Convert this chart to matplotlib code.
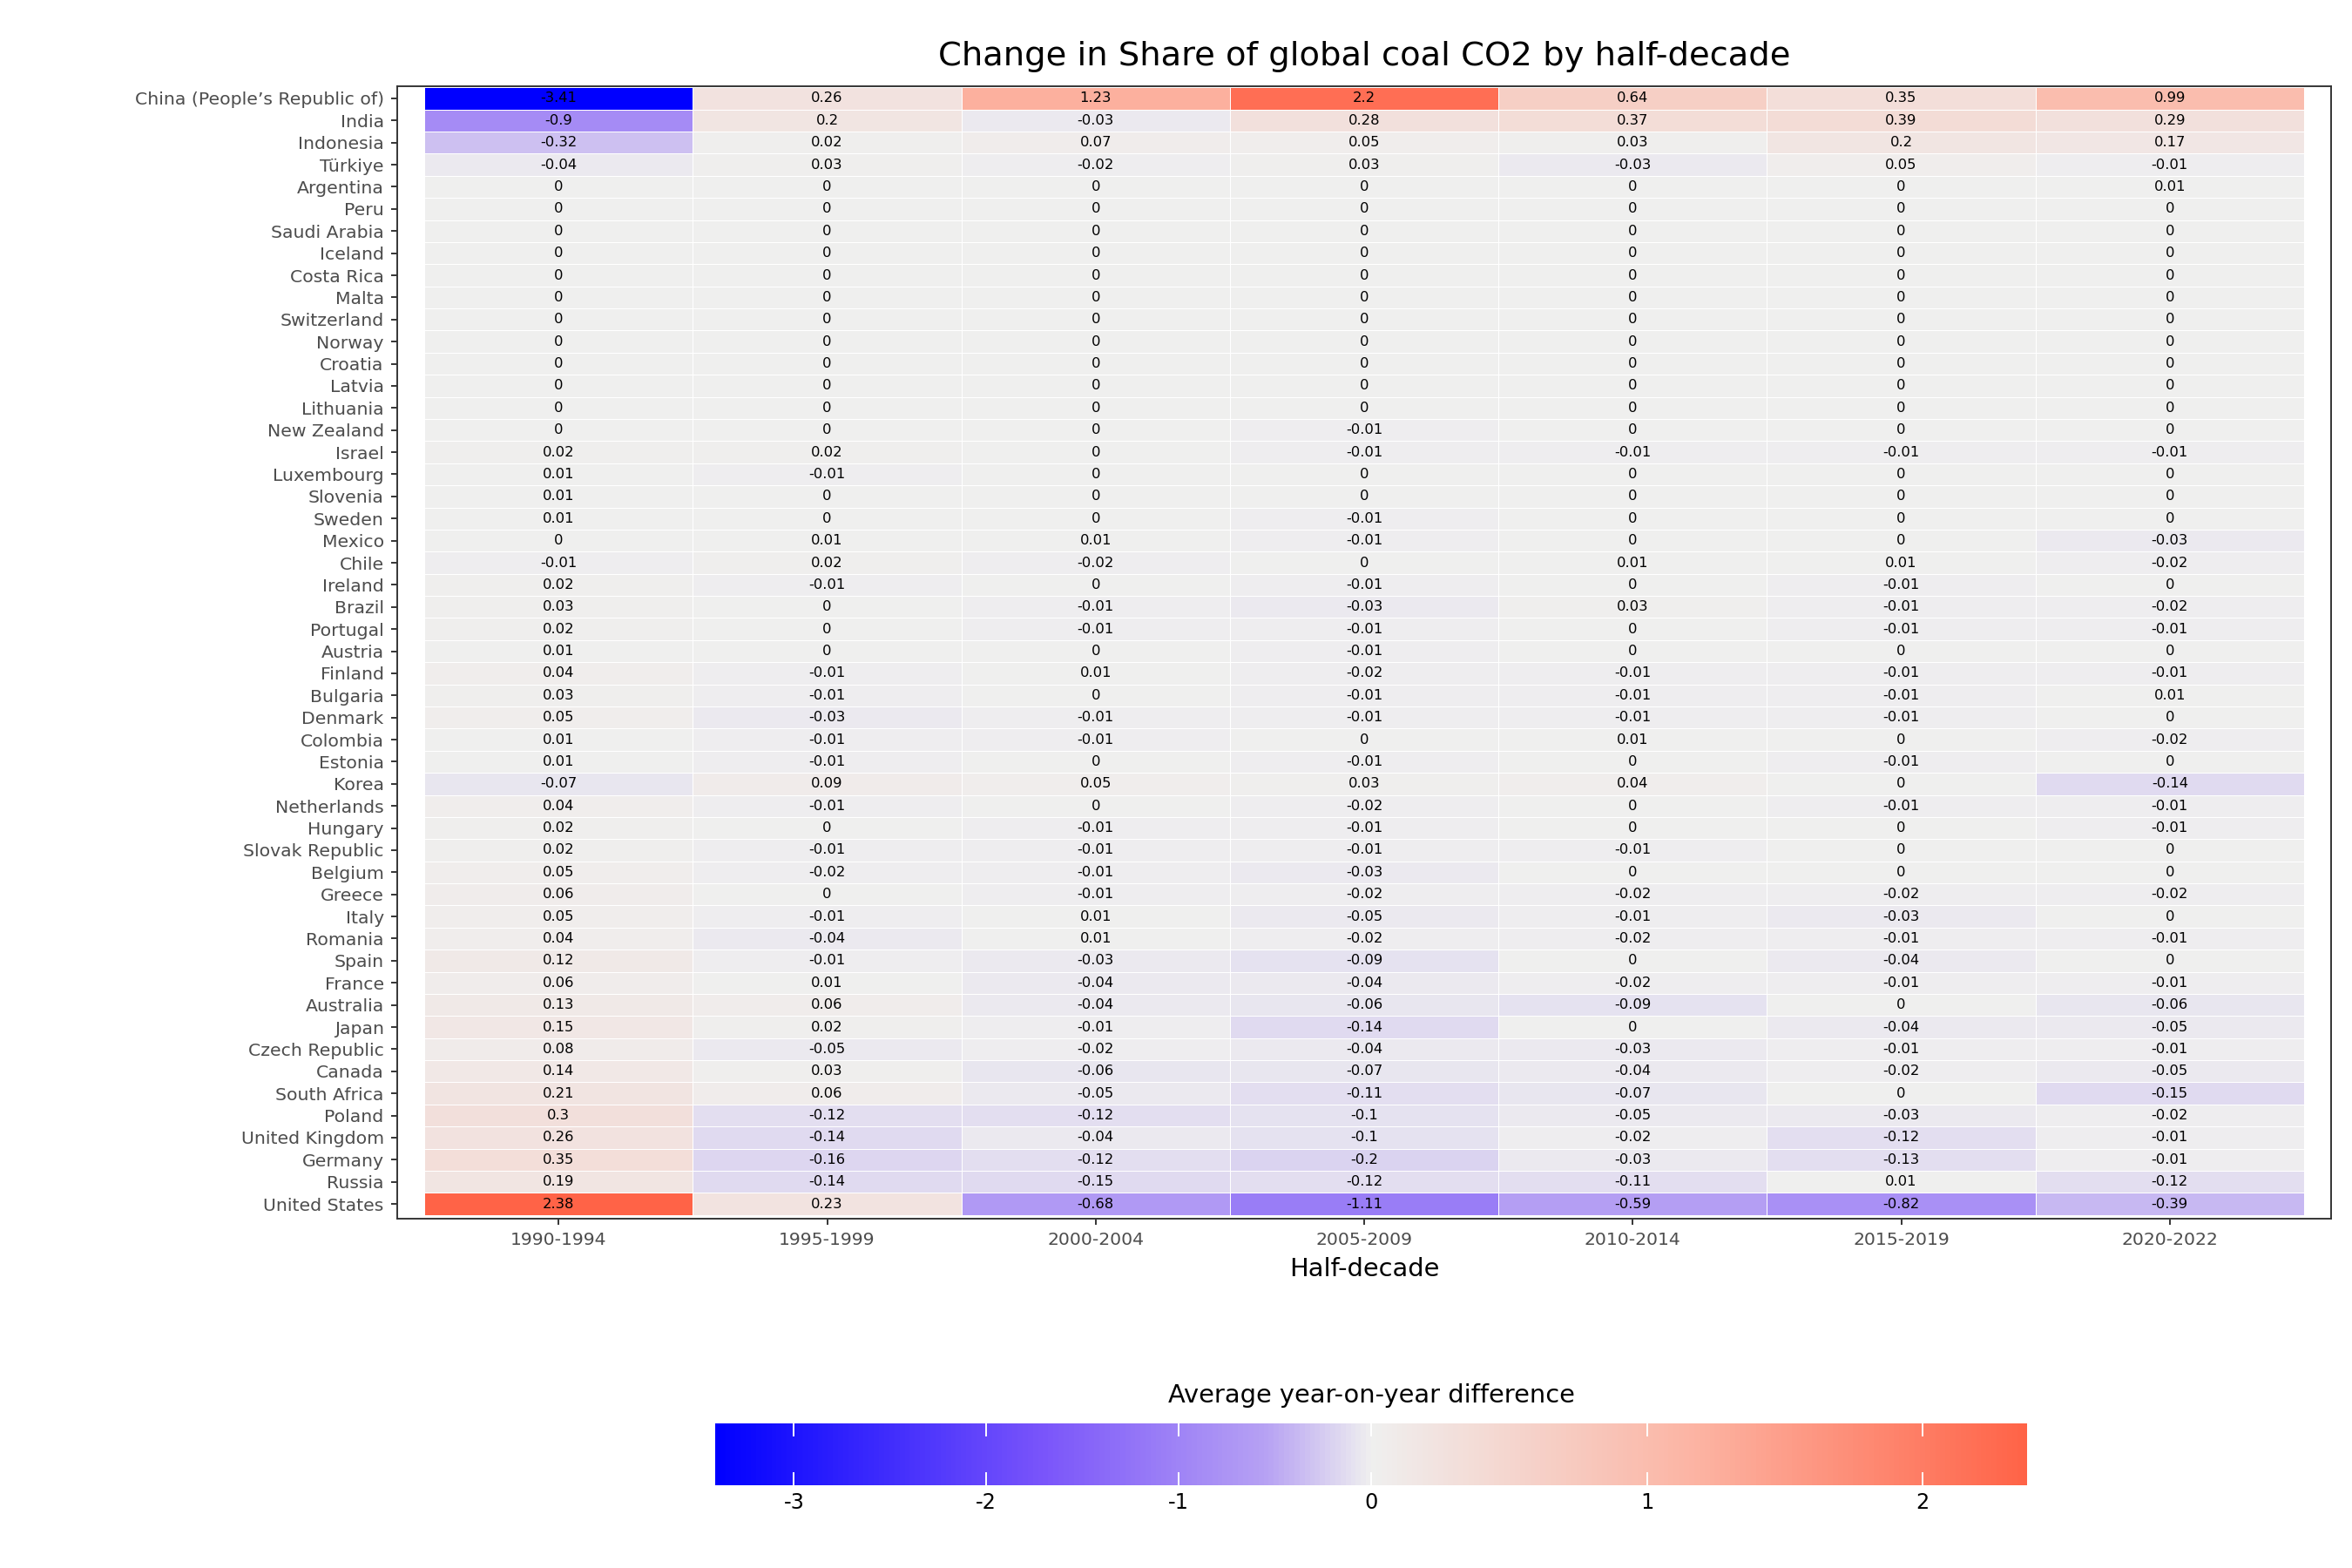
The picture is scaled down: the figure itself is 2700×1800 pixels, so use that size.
import numpy as np
import matplotlib
matplotlib.use("Agg")
import matplotlib.pyplot as plt
from matplotlib.colors import LinearSegmentedColormap, TwoSlopeNorm

periods = ["1990-1994","1995-1999","2000-2004","2005-2009","2010-2014","2015-2019","2020-2022"]
countries = ["China (People’s Republic of)","India","Indonesia","Türkiye","Argentina","Peru","Saudi Arabia",
"Iceland","Costa Rica","Malta","Switzerland","Norway","Croatia","Latvia","Lithuania","New Zealand","Israel",
"Luxembourg","Slovenia","Sweden","Mexico","Chile","Ireland","Brazil","Portugal","Austria","Finland","Bulgaria",
"Denmark","Colombia","Estonia","Korea","Netherlands","Hungary","Slovak Republic","Belgium","Greece","Italy",
"Romania","Spain","France","Australia","Japan","Czech Republic","Canada","South Africa","Poland",
"United Kingdom","Germany","Russia","United States"]
values = [
[-3.41,0.26,1.23,2.2,0.64,0.35,0.99],
[-0.9,0.2,-0.03,0.28,0.37,0.39,0.29],
[-0.32,0.02,0.07,0.05,0.03,0.2,0.17],
[-0.04,0.03,-0.02,0.03,-0.03,0.05,-0.01],
[0,0,0,0,0,0,0.01],
[0,0,0,0,0,0,0],[0,0,0,0,0,0,0],[0,0,0,0,0,0,0],[0,0,0,0,0,0,0],[0,0,0,0,0,0,0],
[0,0,0,0,0,0,0],[0,0,0,0,0,0,0],[0,0,0,0,0,0,0],[0,0,0,0,0,0,0],[0,0,0,0,0,0,0],
[0,0,0,-0.01,0,0,0],
[0.02,0.02,0,-0.01,-0.01,-0.01,-0.01],
[0.01,-0.01,0,0,0,0,0],
[0.01,0,0,0,0,0,0],
[0.01,0,0,-0.01,0,0,0],
[0,0.01,0.01,-0.01,0,0,-0.03],
[-0.01,0.02,-0.02,0,0.01,0.01,-0.02],
[0.02,-0.01,0,-0.01,0,-0.01,0],
[0.03,0,-0.01,-0.03,0.03,-0.01,-0.02],
[0.02,0,-0.01,-0.01,0,-0.01,-0.01],
[0.01,0,0,-0.01,0,0,0],
[0.04,-0.01,0.01,-0.02,-0.01,-0.01,-0.01],
[0.03,-0.01,0,-0.01,-0.01,-0.01,0.01],
[0.05,-0.03,-0.01,-0.01,-0.01,-0.01,0],
[0.01,-0.01,-0.01,0,0.01,0,-0.02],
[0.01,-0.01,0,-0.01,0,-0.01,0],
[-0.07,0.09,0.05,0.03,0.04,0,-0.14],
[0.04,-0.01,0,-0.02,0,-0.01,-0.01],
[0.02,0,-0.01,-0.01,0,0,-0.01],
[0.02,-0.01,-0.01,-0.01,-0.01,0,0],
[0.05,-0.02,-0.01,-0.03,0,0,0],
[0.06,0,-0.01,-0.02,-0.02,-0.02,-0.02],
[0.05,-0.01,0.01,-0.05,-0.01,-0.03,0],
[0.04,-0.04,0.01,-0.02,-0.02,-0.01,-0.01],
[0.12,-0.01,-0.03,-0.09,0,-0.04,0],
[0.06,0.01,-0.04,-0.04,-0.02,-0.01,-0.01],
[0.13,0.06,-0.04,-0.06,-0.09,0,-0.06],
[0.15,0.02,-0.01,-0.14,0,-0.04,-0.05],
[0.08,-0.05,-0.02,-0.04,-0.03,-0.01,-0.01],
[0.14,0.03,-0.06,-0.07,-0.04,-0.02,-0.05],
[0.21,0.06,-0.05,-0.11,-0.07,0,-0.15],
[0.3,-0.12,-0.12,-0.1,-0.05,-0.03,-0.02],
[0.26,-0.14,-0.04,-0.1,-0.02,-0.12,-0.01],
[0.35,-0.16,-0.12,-0.2,-0.03,-0.13,-0.01],
[0.19,-0.14,-0.15,-0.12,-0.11,0.01,-0.12],
[2.38,0.23,-0.68,-1.11,-0.59,-0.82,-0.39],
]
Z = np.array(values)
n = len(countries)

cmap = LinearSegmentedColormap.from_list("d", [
    (0.0, "#0000FF"), (0.25, "#7A55FA"), (0.42, "#B7A2F3"), (0.5, "#EFEFEF"),
    (0.75, "#FCB3A2"), (1.0, "#FF6347")])
norm = TwoSlopeNorm(vmin=Z.min(), vcenter=0, vmax=Z.max())

fig = plt.figure(figsize=(15.6, 10.4), dpi=173.08)
ax = fig.add_axes([0.169, 0.223, 0.822, 0.722])
mesh = ax.pcolormesh(np.arange(len(periods)+1)-0.5, np.arange(n+1)-0.5, Z, cmap=cmap, norm=norm,
                     edgecolor="white", linewidth=0.3)
ax.set_xlim(-0.6, len(periods)-0.4)
ax.set_ylim(n-0.5+0.15, -0.5-0.05)
for i in range(n):
    for j in range(len(periods)):
        v = Z[i, j]
        s = "0" if v == 0 else f"{v:g}"
        ax.text(j, i, s, ha="center", va="center", fontsize=6.8, color="black")
ax.set_yticks(range(n))
ax.set_yticklabels(countries, fontsize=8.5, color="#4d4d4d")
ax.set_xticks(range(len(periods)))
ax.set_xticklabels(periods, fontsize=8.5, color="#4d4d4d")
ax.tick_params(length=3, color="#333333")
ax.set_xlabel("Half-decade", fontsize=12)
ax.set_title("Change in Share of global coal CO2 by half-decade", fontsize=16, pad=10)
for sp in ax.spines.values():
    sp.set_color("#333333")

cax = fig.add_axes([0.304, 0.053, 0.558, 0.039])
cb = fig.colorbar(mesh, cax=cax, orientation="horizontal")
cb.set_ticks([-3, -2, -1, 0, 1, 2])
cb.set_ticklabels(["-3", "-2", "-1", "0", "1", "2"])
cb.ax.tick_params(labelsize=10, length=0)
for t in [-3, -2, -1, 0, 1, 2]:
    cax.axvline(t, color="white", lw=0.8, ymax=0.2)
    cax.axvline(t, color="white", lw=0.8, ymin=0.8)
cb.outline.set_visible(False)
cax.set_title("Average year-on-year difference", fontsize=12, pad=10)

fig.savefig("out.png", dpi=173.08)
